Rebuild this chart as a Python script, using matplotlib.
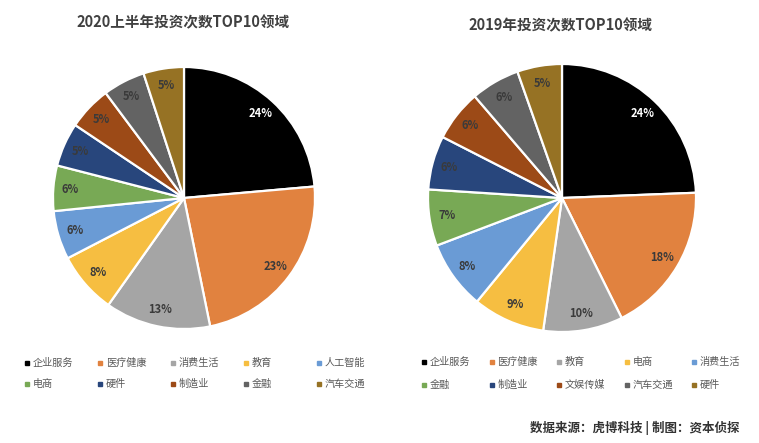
# -*- coding: utf-8 -*-
"""
plot.py

Две круговые диаграммы: TOP10 областей по числу инвестиций, 2020 H1 и 2019.

Выход:
- out.png

Зависимости: matplotlib
"""

from __future__ import annotations

from typing import List

W, H = 759, 443

COLORS = ["#000000", "#E1823F", "#A5A5A5", "#F6BE41", "#6A9BD5",
          "#78A955", "#28467C", "#9C4A17", "#636363", "#967224"]

NAMES_2020 = ["企业服务", "医疗健康", "消费生活", "教育", "人工智能", "电商", "硬件", "制造业", "金融", "汽车交通"]
VALS_2020 = [23.6, 23.2, 13.0, 7.6, 6.0, 5.6, 5.4, 5.4, 5.2, 5.0]

NAMES_2019 = ["企业服务", "医疗健康", "教育", "电商", "消费生活", "金融", "制造业", "文娱传媒", "汽车交通", "硬件"]
VALS_2019 = [24.4, 18.3, 9.6, 8.7, 8.3, 6.8, 6.5, 6.2, 5.9, 5.4]


def draw_pie(plt, vals: List[float], cx: float, cy: float, r: float) -> None:
    # оси задаём в пикселях исходной картинки
    plt.axes([(cx - r) / W, 1 - (cy + r) / H, 2 * r / W, 2 * r / H])
    wedges, texts, pcts = plt.pie(vals, colors=COLORS, startangle=90, counterclock=False,
                                  autopct="%.0f%%", pctdistance=0.87,
                                  wedgeprops={"edgecolor": "white", "linewidth": 1.6})
    plt.xlim(-1, 1)
    plt.ylim(-1, 1)
    for i, t in enumerate(pcts):
        t.set_fontsize(8)
        t.set_fontweight("bold")
        t.set_color("white" if i == 0 else "#3A3A3A")
    for w in wedges:
        w.set_clip_on(False)


def draw_legend(plt, names: List[str], x0: float, step: float, ys: List[float]) -> None:
    for i, name in enumerate(names):
        x = x0 + step * (i % 5)
        y = ys[i // 5]
        plt.plot([x], [y], marker="s", markersize=3, color=COLORS[i], linestyle="none")
        plt.text(x + 6, y, name, fontsize=7.3, color="#595959", va="center", ha="left")


def main():
    import matplotlib
    matplotlib.use("Agg")
    import matplotlib.pyplot as plt

    plt.rcParams["font.family"] = ["Noto Sans CJK SC", "DejaVu Sans"]

    plt.figure(figsize=(W / 100, H / 100), dpi=100)

    draw_pie(plt, VALS_2020, 184, 198, 131)
    draw_pie(plt, VALS_2019, 562, 198, 134)

    # верхний слой для подписей, координаты как в пикселях
    plt.axes([0, 0, 1, 1])
    plt.axis("off")
    plt.xlim(0, W)
    plt.ylim(H, 0)

    plt.text(183, 22, "2020上半年投资次数TOP10领域", fontsize=10.5, fontweight="bold",
             color="#404040", ha="center", va="center")
    plt.text(560, 25, "2019年投资次数TOP10领域", fontsize=10.5, fontweight="bold",
             color="#404040", ha="center", va="center")

    draw_legend(plt, NAMES_2020, 27, 73, [363, 384])
    draw_legend(plt, NAMES_2019, 424, 67.5, [362, 385])

    plt.text(740, 428, "数据来源：虎博科技 | 制图：资本侦探", fontsize=9, fontweight="bold",
             color="#333333", ha="right", va="center")

    plt.savefig("out.png", dpi=100)
    plt.close()
    print("Wrote: out.png")


if __name__ == "__main__":
    main()
